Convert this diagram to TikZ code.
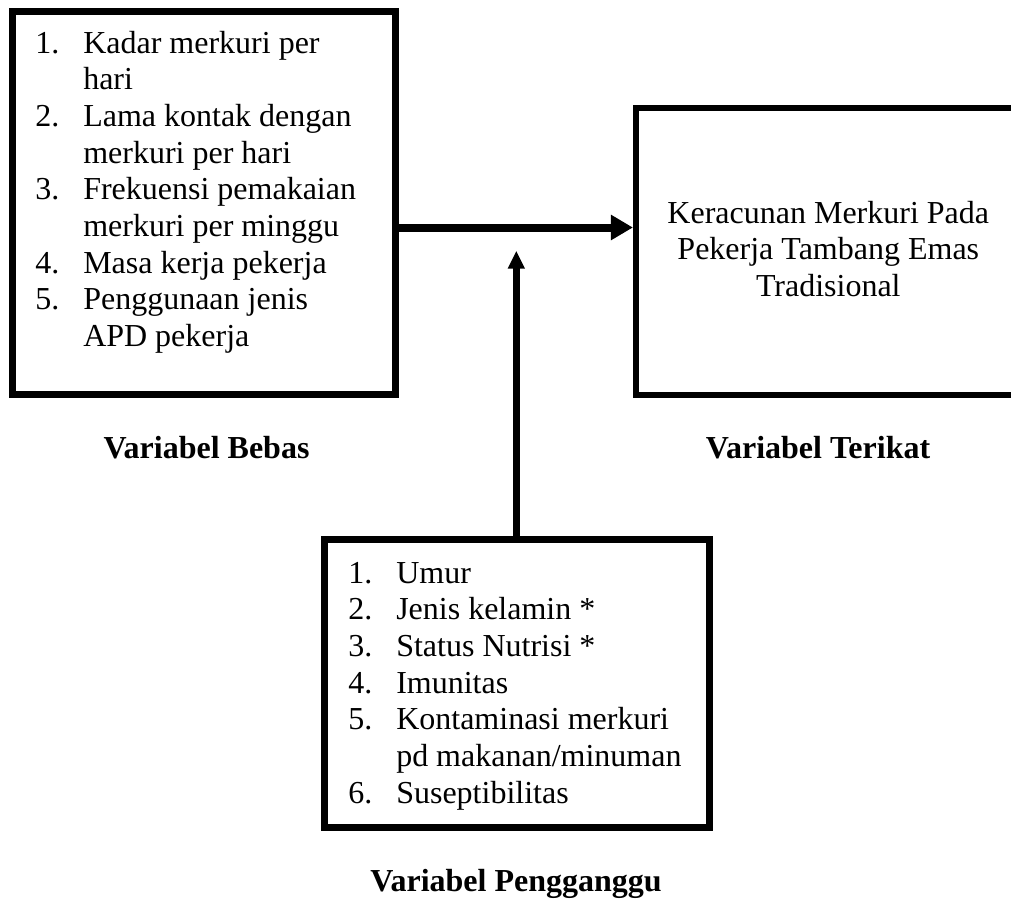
\documentclass[tikz,border=0pt]{standalone}
\usepackage{fontspec}
\setmainfont{Liberation Serif}
\usetikzlibrary{arrows.meta}
\begin{document}
\begin{tikzpicture}[x=0.75pt,y=-0.75pt,
  box/.style={draw, rectangle, line width=4.9pt, inner sep=0pt},
  listtext/.style={anchor=base west, inner sep=0pt, font=\fontsize{24pt}{27.5pt}\selectfont},
  centertext/.style={anchor=base, inner sep=0pt, font=\fontsize{24pt}{27.5pt}\selectfont},
  caption/.style={anchor=base, inner sep=0pt, font=\fontsize{24pt}{27.5pt}\selectfont\bfseries},
  bigarrow/.style={line width=6pt, -{Triangle[length=16.5pt,width=18pt]}},
  modarrow/.style={line width=5.25pt, -{Triangle[length=13.5pt,width=12pt]}}]
\useasboundingbox (0,0) rectangle (1011,900);
\clip (0,0) rectangle (1011,900);
\fill[white] (0,0) rectangle (1011,900);

% boxes
\node[box, minimum width=0.75*383.5pt, minimum height=0.75*383.5pt] (bebas) at (204,203) {};
\node[box, minimum width=0.75*383.75pt, minimum height=0.75*286.75pt] (terikat) at (828.1,251.6) {};
\node[box, minimum width=0.75*385.5pt, minimum height=0.75*288.25pt] (ganggu) at (517,683.4) {};

% texts
\node[listtext] (bebastext) at (35,53.3) {\begin{tabular}[t]{@{}p{36pt}@{}l@{}}
1. & Kadar merkuri per\\
   & hari\\
2. & Lama kontak dengan\\
   & merkuri per hari\\
3. & Frekuensi pemakaian\\
   & merkuri per minggu\\
4. & Masa kerja pekerja\\
5. & Penggunaan jenis\\
   & APD pekerja
\end{tabular}};

\node[centertext] (terikattext) at (828.3,223.3) {\begin{tabular}[t]{@{}c@{}}
Keracunan Merkuri Pada\\
Pekerja Tambang Emas\\
Tradisional
\end{tabular}};

\node[listtext] (gangguText) at (348,583.3) {\begin{tabular}[t]{@{}p{36pt}@{}l@{}}
1. & Umur\\
2. & Jenis kelamin *\\
3. & Status Nutrisi *\\
4. & Imunitas\\
5. & Kontaminasi merkuri\\
   & pd makanan/minuman\\
6. & Suseptibilitas
\end{tabular}};

% captions
\node[caption] (capbebas) at (206.5,458.3) {Variabel Bebas};
\node[caption] (capterikat) at (818,458.3) {Variabel Terikat};
\node[caption] (capganggu) at (516,891.7) {Variabel Pengganggu};

% connectors
\coordinate (hy) at (0,227.5);
\coordinate (modtip) at (516.3,250.7);
\draw[bigarrow] (bebas.east |- hy) -- (terikat.west |- hy);
\draw[modarrow] (ganggu.north -| modtip) -- (modtip);
\end{tikzpicture}
\end{document}
